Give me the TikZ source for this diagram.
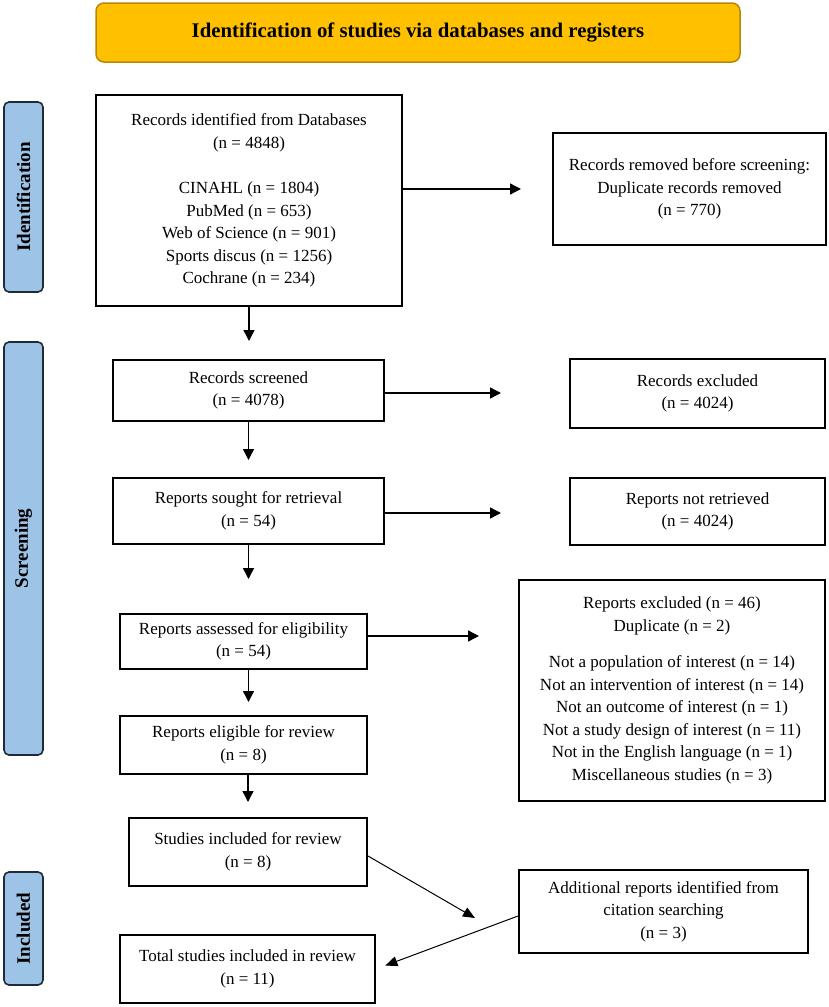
\documentclass[tikz,border=0pt]{standalone}
\usepackage{fontspec}
\setmainfont{Liberation Serif}
\usetikzlibrary{arrows.meta}
\definecolor{titlefill}{HTML}{FFC000}
\definecolor{titledraw}{HTML}{B8860B}
\definecolor{sidefill}{HTML}{9DC3E6}
\definecolor{sidedraw}{HTML}{1F2A3A}
\begin{document}
\begin{tikzpicture}[x=1pt,y=-1pt,
 box/.style={draw=black, line width=2pt, fill=white, align=center, inner sep=0pt,
   font=\fontsize{17}{22.5}\selectfont},
 titlebox/.style={draw=titledraw, line width=1.5pt, fill=titlefill, rounded corners=8pt,
   inner sep=0pt, font=\fontsize{20.8}{24}\selectfont\bfseries},
 side/.style={draw=sidedraw, line width=1.6pt, fill=sidefill, rounded corners=5pt, rotate=90,
   inner sep=0pt, font=\fontsize{19}{20}\selectfont\bfseries, minimum height=39pt},
 arr/.style={line width=1.4pt, -{Triangle[length=11pt,width=11pt]}},
 darr/.style={line width=1pt, -{Triangle[length=12pt,width=10pt]}}]
\useasboundingbox (0,0) rectangle (829,1007);

\node[titlebox, minimum width=644pt, minimum height=59pt] (title) at (418,32.5)
  {Identification of studies via databases and registers};

\node[side, minimum width=190pt] (sid) at (23.5,197) {Identification};
\node[side, minimum width=413pt] (sscr) at (23.5,548.5) {Screening};
\node[side, minimum width=113pt] (sinc) at (23.5,928.5) {Included};

\node[box, minimum width=306pt, minimum height=211pt] (ident) at (249,200.5)
  {Records identified from Databases\\(n = 4848)\\[23pt]CINAHL (n = 1804)\\PubMed (n = 653)\\Web of Science (n = 901)\\Sports discus (n = 1256)\\Cochrane (n = 234)};
\node[box, minimum width=273pt, minimum height=112pt] (removed) at (689.5,189)
  {Records removed before screening:\\Duplicate records removed\\(n = 770)};
\node[box, minimum width=271pt, minimum height=61pt] (screened) at (248.5,390.5)
  {Records screened\\(n = 4078)};
\node[box, minimum width=255pt, minimum height=69pt] (excluded) at (697.5,393.5)
  {Records excluded\\(n = 4024)};
\node[box, minimum width=271pt, minimum height=66pt] (sought) at (248.5,511)
  {Reports sought for retrieval\\(n = 54)};
\node[box, minimum width=255pt, minimum height=67pt] (notret) at (697.5,511.5)
  {Reports not retrieved\\(n = 4024)};
\node[box, minimum width=247pt, minimum height=55pt] (assessed) at (243.5,641.5)
  {Reports assessed for eligibility\\(n = 54)};
\node[box, minimum width=306pt, minimum height=221pt] (repexcl) at (672,690.5)
  {Reports excluded (n = 46)\\Duplicate (n = 2)\\[14pt]Not a population of interest (n = 14)\\Not an intervention of interest (n = 14)\\Not an outcome of interest (n = 1)\\Not a study design of interest (n = 11)\\Not in the English language (n = 1)\\Miscellaneous studies (n = 3)};
\node[box, minimum width=247pt, minimum height=58pt] (eligible) at (243.5,745)
  {Reports eligible for review\\(n = 8)};
\node[box, minimum width=238pt, minimum height=68pt] (studies) at (248,852)
  {Studies included for review\\(n = 8)};
\node[box, minimum width=289pt, minimum height=83pt] (additional) at (663.5,911.5)
  {Additional reports identified from\\citation searching\\(n = 3)};
\node[box, minimum width=255pt, minimum height=68pt] (total) at (247.5,969)
  {Total studies included in review\\(n = 11)};

\coordinate (d1) at (475,918);

\draw[arr, shorten >=18pt] (ident.south) -- (ident.south |- screened.north);
\draw[arr, shorten >=31pt] (removed.west -| ident.east) -- (removed.west);
\draw[arr, shorten >=68pt] ([yshift=-2.5pt]screened.east) -- ([yshift=-2.5pt]screened.east -| excluded.west);
\draw[arr, shorten >=17pt] (screened.south) -- (screened.south |- sought.north);
\draw[arr, shorten >=68pt] ([yshift=-2pt]sought.east) -- ([yshift=-2pt]sought.east -| notret.west);
\draw[arr, shorten >=34pt] (sought.south) -- (sought.south |- assessed.north);
\draw[arr, shorten >=39pt] ([yshift=5.5pt]assessed.east) -- ([yshift=5.5pt]assessed.east -| repexcl.west);
\draw[arr, shorten >=13pt] (assessed.south -| sought.south) -- (sought.south |- eligible.north);
\draw[arr, shorten >=15pt] (eligible.south -| studies.north) -- (studies.north);
\draw[darr] ([yshift=-4pt]studies.east) -- (d1);
\draw[darr, shorten >=10pt] ([yshift=-4.5pt]additional.west) -- (total.east);
\end{tikzpicture}
\end{document}
